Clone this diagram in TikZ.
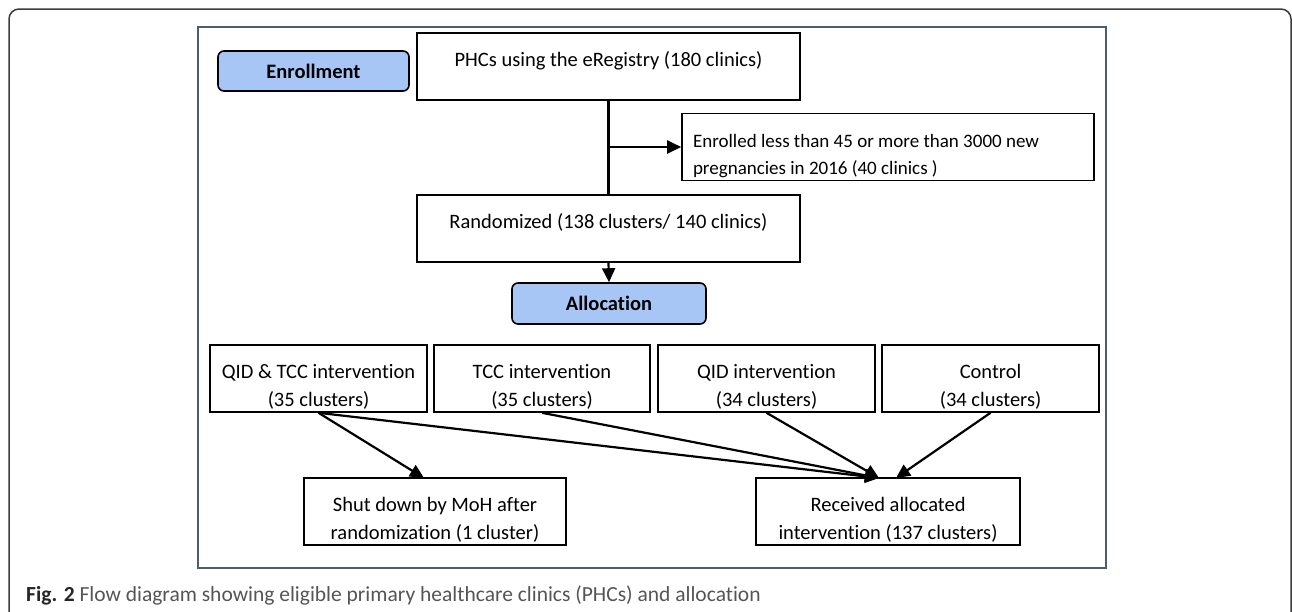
\documentclass[tikz,border=0pt]{standalone}
\usepackage{fontspec}
\setmainfont[Ligatures=CommonOff]{Carlito}
\usetikzlibrary{arrows.meta}
\definecolor{hdrblue}{RGB}{168,198,245}
\definecolor{framegray}{RGB}{80,92,110}
\definecolor{outergray}{RGB}{60,60,60}
\definecolor{capgray}{RGB}{85,85,85}
\newcommand{\twoline}[2]{\begin{tabular}[t]{@{}c@{}}#1\\#2\end{tabular}}
\tikzset{
  flowbox/.style={draw=black, line width=1.6pt, fill=white, inner sep=0pt,
    font=\fontsize{20.5}{28}\selectfont, text height=10pt, text depth=10pt,
    minimum height=67pt},
  hdrbox/.style={draw=black, line width=1.6pt, fill=hdrblue, rounded corners=6pt,
    font=\fontsize{20.5}{24}\selectfont\bfseries, minimum height=40pt},
  conn/.style={line width=2.2pt, draw=black},
  arr/.style={conn, -{Triangle[length=14pt,width=13pt]}}
}
\begin{document}
\begin{tikzpicture}[x=1pt,y=-1pt]
\useasboundingbox (0,0) rectangle (1292,611);
\fill[white] (0,0) rectangle (1292,611);
% outer frame
\draw[outergray, line width=1.5pt, rounded corners=10pt] (9,620) -- (9,9) -- (1291,9) -- (1291,620);
% inner frame
\draw[framegray, line width=2pt] (198,27) rectangle (1106,568);

\node[hdrbox, minimum width=191pt] (enr) at (313.5,71) {Enrollment};
\node[flowbox, minimum width=383pt] (phc) at (608.5,66.5) {PHCs using the eRegistry (180 clinics)};
\node[flowbox, minimum width=412pt, inner xsep=11pt] (excl) at (888,147)
  {\fontsize{19}{27}\selectfont\begin{tabular}[t]{@{}p{390pt}@{}}Enrolled less than 45 or more than 3000 new\\pregnancies in 2016 (40 clinics )\end{tabular}};
\node[flowbox, minimum width=383pt] (rand) at (608.5,228.5) {Randomized (138 clusters/ 140 clinics)};
\node[hdrbox, minimum width=194pt, minimum height=41pt] (alloc) at (609,303.5) {Allocation};

\node[flowbox, minimum width=217pt] (b1) at (318.5,378.5) {\twoline{QID \& TCC intervention}{(35 clusters)}};
\node[flowbox, minimum width=216pt] (b2) at (542,378.5) {\twoline{TCC intervention}{(35 clusters)}};
\node[flowbox, minimum width=217pt] (b3) at (766.5,378.5) {\twoline{QID intervention}{(34 clusters)}};
\node[flowbox, minimum width=217pt] (b4) at (990.5,378.5) {\twoline{Control}{(34 clusters)}};

\node[flowbox, minimum width=262pt] (shut) at (435,511.5) {\twoline{Shut down by MoH after}{randomization (1 cluster)}};
\node[flowbox, minimum width=264pt] (recv) at (888,511.5) {\twoline{Received allocated}{intervention (137 clusters)}};

% connectors
\coordinate (br) at (phc.south |- excl.west);
\draw[conn] (phc.south) -- (rand.north);
\draw[arr] (br) -- (excl.west);
\draw[arr] (rand.south) -- (alloc.north);

\coordinate (shutin) at (424,478);
\coordinate (recvin) at (879,478);
\coordinate (recvin2) at (896,478);
\draw[arr] (b1.south) -- (shutin);
\draw[arr] (b1.south) -- (recvin);
\draw[arr] (b2.south) -- (recvin);
\draw[arr] (b3.south) -- (recvin);
\draw[arr] (b4.south) -- (recvin2);

% caption
\node[anchor=base west, inner sep=0pt, font=\fontsize{21.5}{24}\selectfont, text=capgray] (cap) at (26,601)
  {\textcolor{black!85}{\bfseries Fig. 2} Flow diagram showing eligible primary healthcare clinics (PHCs) and allocation};
\end{tikzpicture}
\end{document}
